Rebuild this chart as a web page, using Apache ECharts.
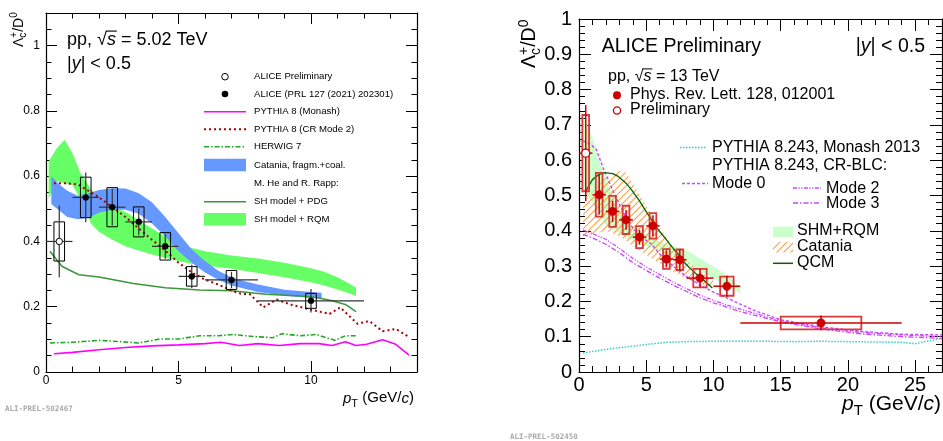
<!DOCTYPE html>
<html><head><meta charset="utf-8">
<script src="https://cdn.jsdelivr.net/npm/echarts/dist/echarts.min.js"></script>
<style>html,body{margin:0;padding:0;background:#fff}#c{width:943px;height:441px}</style>
</head><body><div id="c"></div>
<script>
// ---------------- Left panel: pp 5.02 TeV ----------------
const lPrelimPt=[0.5], lPrelimVal=[0.40], lPrelimLo=[0], lPrelimHi=[1], lPrelimStat=[0.11], lPrelimSys=[0.06];
const lPt=[1.5,2.5,3.5,4.5,5.5,7,10];
const lVal=[0.535,0.505,0.46,0.385,0.293,0.282,0.218];
const lLo=[1,2,3,4,5,6,8];
const lHi=[2,3,4,5,6,8,12];
const lStat=[0.076,0.056,0.041,0.038,0.036,0.025,0.036];
const lSys=[0.062,0.06,0.046,0.042,0.03,0.029,0.023];
const lMonashPt=[0.3,1,2,3,4,5,6,6.6,7.3,8,8.8,9.6,10.3,10.8,11.3,11.7,12.1,12.7,13.2,13.7];
const lMonashVal=[0.056,0.06,0.068,0.075,0.08,0.083,0.087,0.091,0.081,0.087,0.081,0.087,0.087,0.081,0.093,0.081,0.085,0.099,0.085,0.052];
const lCRPt=[0.3,0.8,1.2,1.5,2,2.5,3,3.5,4,4.5,5,5.5,6,6.5,7.05,7.35,7.7,8.2,8.7,9.3,9.9,10.7,11.1,11.75,12.2,12.7,13.2,13.7];
const lCRVal=[0.578,0.578,0.575,0.56,0.535,0.505,0.475,0.44,0.405,0.372,0.335,0.305,0.283,0.268,0.248,0.24,0.238,0.198,0.222,0.205,0.193,0.178,0.198,0.148,0.156,0.125,0.132,0.107];
const lHerwigPt=[0.15,1,2,2.8,3.5,4.3,5,5.8,6.5,7.05,7.8,8.55,8.9,9.6,10.2,10.9,11.3,11.75];
const lHerwigVal=[0.089,0.091,0.097,0.093,0.089,0.101,0.101,0.111,0.111,0.115,0.109,0.105,0.117,0.111,0.115,0.097,0.111,0.111];
const lPdgPt=[0.15,0.6,1.24,2,3.3,4.5,5.8,7,8.3,9.6,10.2,10.8,11.3,11.7];
const lPdgVal=[0.37,0.324,0.298,0.291,0.271,0.258,0.251,0.249,0.238,0.233,0.228,0.218,0.207,0.185];
const lCatPt=[0.2,0.5,0.8,1.2,1.6,2,2.5,3,3.5,4,4.5,5,5.5,6,6.5,7,7.5,8,9,10,10.4];
const lCatHi=[0.60,0.575,0.555,0.54,0.548,0.558,0.563,0.562,0.548,0.52,0.475,0.425,0.375,0.34,0.31,0.29,0.278,0.268,0.252,0.245,0.243];
const lCatLo=[0.515,0.495,0.475,0.468,0.472,0.488,0.497,0.497,0.485,0.455,0.415,0.37,0.335,0.305,0.283,0.265,0.255,0.245,0.234,0.227,0.225];
const lRqmPt=[0.1,0.4,0.7,1.0,1.3,1.7,2,2.5,3,3.5,4,4.5,5,5.5,6,7,8,9,10,10.5,11,11.5,11.7];
const lRqmHi=[0.645,0.685,0.712,0.67,0.61,0.56,0.535,0.51,0.49,0.465,0.44,0.415,0.395,0.38,0.37,0.357,0.348,0.335,0.318,0.307,0.29,0.268,0.258];
const lRqmLo=[0.53,0.585,0.578,0.572,0.53,0.455,0.43,0.405,0.385,0.372,0.36,0.35,0.34,0.332,0.326,0.316,0.303,0.29,0.275,0.265,0.253,0.24,0.232];
const lLegendLabels=['ALICE Preliminary','ALICE (PRL 127 (2021) 202301)','PYTHIA 8 (Monash)','PYTHIA 8 (CR Mode 2)','HERWIG 7','Catania, fragm.+coal.','M. He and R. Rapp:','SH model + PDG','SH model + RQM'];

// ---------------- Right panel: pp 13 TeV ----------------
const rPrelimPt=[0.5], rPrelimVal=[0.62], rPrelimLo=[0], rPrelimHi=[1], rPrelimStat=[0.136], rPrelimSys=[0.108];
const rPt=[1.5,2.5,3.5,4.5,5.5,6.5,7.5,9,11,18];
const rVal=[0.502,0.455,0.431,0.382,0.414,0.32,0.318,0.266,0.243,0.139];
const rLo=[1,2,3,4,5,6,7,8,10,12];
const rHi=[2,3,4,5,6,7,8,10,12,24];
const rStat=[0.056,0.03,0.028,0.021,0.03,0.024,0.03,0.026,0.03,0.021];
const rSys=[0.062,0.044,0.04,0.031,0.036,0.028,0.029,0.026,0.027,0.018];
const rMonashPt=[0.3,1,2,3,4,5,6.5,8,10,12,14,16,18,20,22,24,25,26,27];
const rMonashVal=[0.054,0.058,0.064,0.069,0.073,0.078,0.084,0.086,0.087,0.087,0.087,0.086,0.087,0.086,0.085,0.084,0.08,0.088,0.095];
const rMode0Pt=[0.3,0.9,1.3,1.8,2.65,3.64,4.4,5.4,6.1,7,8,9,10,11,12,13,15,18,21,24,27];
const rMode0Val=[0.655,0.644,0.63,0.578,0.502,0.427,0.389,0.362,0.33,0.3,0.27,0.247,0.226,0.21,0.192,0.175,0.148,0.128,0.115,0.107,0.105];
const rModePt=[0.3,1,2,3,4,5,6,7,8,9,10,11,12,15,18,21,24,27];
const rMode2Val=[0.402,0.392,0.376,0.35,0.322,0.298,0.276,0.255,0.236,0.218,0.203,0.19,0.178,0.145,0.125,0.112,0.105,0.1];
const rMode3Val=[0.39,0.38,0.362,0.338,0.31,0.288,0.266,0.246,0.228,0.21,0.196,0.184,0.171,0.142,0.122,0.108,0.1,0.095];
const rQcmPt=[0.5,1,1.5,1.93,2.5,2.92,3.5,3.91,4.5,4.9,5.5,5.89,6.5,6.88,7.5,7.87,8.5,9.1,9.92];
const rQcmVal=[0.512,0.545,0.56,0.565,0.562,0.554,0.535,0.516,0.485,0.46,0.425,0.403,0.375,0.356,0.328,0.309,0.285,0.266,0.238];
const rShmPt=[0.3,0.6,1,1.5,2,2.5,3,3.5,4,5,6,7,8,9,10,11,12];
const rShmHi=[0.72,0.70,0.665,0.6,0.55,0.5,0.46,0.43,0.41,0.39,0.37,0.358,0.345,0.322,0.298,0.275,0.24];
const rShmLo=[0.52,0.5,0.48,0.45,0.415,0.405,0.394,0.382,0.372,0.357,0.342,0.327,0.31,0.285,0.265,0.245,0.222];
const rCatPt=[0.3,1,2,3,3.5,4,5,6,7,8,9,10];
const rCatHi=[0.48,0.51,0.55,0.57,0.565,0.535,0.47,0.41,0.355,0.315,0.285,0.258];
const rCatLo=[0.38,0.39,0.4,0.385,0.372,0.358,0.332,0.308,0.285,0.265,0.25,0.24];

// ---------------- helpers ----------------
const FONT="'Liberation Sans', Arial, Helvetica, sans-serif";
const mctx=document.createElement('canvas').getContext('2d');
function tw(t,font){mctx.font=font;return mctx.measureText(t).width;}
function run(x,base,parts,size,fill){
  const out=[];let cx=x;let stackW=null;
  parts.forEach(p=>{
    const s=p.s||size;const font=(p.i?'italic ':'')+s+'px '+FONT;
    const w=tw(p.t,font);const by=base+(p.dy||0);
    out.push({type:'text',x:cx,y:by-0.31*s,silent:true,style:{text:p.t,font:font,fill:fill||'#000',textAlign:'left',textVerticalAlign:'middle'}});
    if(p.over){out.push({type:'line',silent:true,shape:{x1:cx-s*0.05,y1:base-0.80*s,x2:cx+w+s*0.05,y2:base-0.80*s},style:{stroke:fill||'#000',lineWidth:Math.max(1,s/16)}});}
    if(p.stack){stackW=w;}
    else{cx+= (stackW!==null?Math.max(stackW,w):w);stackW=null;}
  });
  return out;
}
const hatch=document.createElement('canvas');hatch.width=7;hatch.height=7;
(function(){const h=hatch.getContext('2d');h.strokeStyle='#ffa040';h.lineWidth=1.1;h.beginPath();
h.moveTo(0,7);h.lineTo(7,0);h.moveTo(-1,1);h.lineTo(1,-1);h.moveTo(6,8);h.lineTo(8,6);h.stroke();})();
const hatchFill={image:hatch,repeat:'repeat'};

function band(xi,yi,pt,lo,hi,fill,z){
  return {type:'custom',xAxisIndex:xi,yAxisIndex:yi,z:z,silent:true,clip:true,
    data:pt.map((x,i)=>[x,lo[i],hi[i]]),
    renderItem:function(params,api){
      if(params.dataIndex!==0)return null;
      const pts=[];
      for(let i=0;i<pt.length;i++)pts.push(api.coord([pt[i],hi[i]]));
      for(let i=pt.length-1;i>=0;i--)pts.push(api.coord([pt[i],lo[i]]));
      return {type:'polygon',shape:{points:pts},style:{fill:fill,stroke:null}};
    }};
}
function line(xi,yi,pt,val,color,width,dash,z){
  return {type:'line',xAxisIndex:xi,yAxisIndex:yi,z:z||3,silent:true,symbol:'none',showSymbol:false,
    data:pt.map((x,i)=>[x,val[i]]),lineStyle:{color:color,width:width,type:dash||'solid'}};
}
function points(xi,yi,pt,val,lo,hi,stat,sys,halfW,o){
  return {type:'custom',xAxisIndex:xi,yAxisIndex:yi,z:o.z||10,silent:true,clip:false,
    data:pt.map((x,i)=>[x,val[i],lo[i],hi[i],stat[i],sys[i],halfW(i)]),
    renderItem:function(params,api){
      const x=api.value(0),y=api.value(1),l=api.value(2),h=api.value(3),st=api.value(4),sy=api.value(5),bw=api.value(6);
      const c=api.coord([x,y]),a=api.coord([l,y]),b=api.coord([h,y]);
      const u=api.coord([x,y+st]),d=api.coord([x,y-st]);
      const r1=api.coord([x-bw,y+sy]),r2=api.coord([x+bw,y-sy]);
      return {type:'group',children:[
        {type:'rect',shape:{x:r1[0],y:r1[1],width:r2[0]-r1[0],height:r2[1]-r1[1]},style:{fill:'none',stroke:o.box,lineWidth:o.boxW}},
        {type:'line',shape:{x1:a[0],y1:a[1],x2:b[0],y2:b[1]},style:{stroke:o.bar,lineWidth:o.barW}},
        {type:'line',shape:{x1:u[0],y1:u[1],x2:d[0],y2:d[1]},style:{stroke:o.bar,lineWidth:o.barW}},
        {type:'circle',shape:{cx:c[0],cy:c[1],r:o.r},style:{fill:o.fill,stroke:o.mk,lineWidth:o.mw}}
      ]};
    }};
}
function frameAxes(g,xMax,xMaj,xMin,yMax,yMaj,yMin,fs,majLen,minLen,xm,ym,hideYMax){
  const tick=(len)=>({show:true,inside:true,length:len,lineStyle:{color:'#000',width:1}});
  const lineOn={show:true,onZero:false,lineStyle:{color:'#000',width:1.2}};
  const lineOff={show:false,onZero:false};
  const mk=(pos,max,iv,len,axLine,label)=>({type:'value',gridIndex:g,position:pos,min:0,max:max,interval:iv,
    splitLine:{show:false},axisLine:axLine,axisTick:tick(len),
    axisLabel:label||{show:false}});
  const xl={show:true,color:'#000',fontSize:fs,fontFamily:FONT,margin:xm,showMaxLabel:false};
  const yl={show:true,color:'#000',fontSize:fs,fontFamily:FONT,margin:ym,showMaxLabel:!hideYMax};
  return {
    x:[mk('bottom',xMax,xMaj,majLen,lineOn,xl),mk('bottom',xMax,xMin,minLen,lineOff),mk('top',xMax,xMaj,majLen,lineOn),mk('top',xMax,xMin,minLen,lineOff)],
    y:[mk('left',yMax,yMaj,majLen,lineOn,yl),mk('left',yMax,yMin,minLen,lineOff),mk('right',yMax,yMaj,majLen,lineOn),mk('right',yMax,yMin,minLen,lineOff)]
  };
}

const LA=frameAxes(0,14,5,1,1.1,0.2,0.05,12,11,5.5,3,6,true);
const RA=frameAxes(1,27,5,1,1.0,0.1,0.02,20,12,6,3,7,false);

// ---------------- series ----------------
const series=[
  band(0,0,lRqmPt,lRqmLo,lRqmHi,'#66ff66',1),
  band(0,0,lCatPt,lCatLo,lCatHi,'#6699ff',2),
  line(0,0,lPdgPt,lPdgVal,'#3c963c',1.5,'solid',3),
  line(0,0,lMonashPt,lMonashVal,'#ff00ff',1.6,'solid',3),
  line(0,0,lHerwigPt,lHerwigVal,'#22aa22',1.6,[5,2,1.5,2],3),
  line(0,0,lCRPt,lCRVal,'#a80000',2,[2,3],4),
  points(0,0,lPrelimPt,lPrelimVal,lPrelimLo,lPrelimHi,lPrelimStat,lPrelimSys,()=>0.2,{box:'#000',boxW:1,bar:'#333',barW:1.2,r:3.2,fill:'#fff',mk:'#000',mw:1}),
  points(0,0,lPt,lVal,lLo,lHi,lStat,lSys,()=>0.2,{box:'#000',boxW:1,bar:'#333',barW:1.2,r:3,fill:'#000',mk:'#000',mw:0.5}),

  band(4,4,rShmPt,rShmLo,rShmHi,'#ccffcc',1),
  band(4,4,rCatPt,rCatLo,rCatHi,hatchFill,2),
  line(4,4,rMonashPt,rMonashVal,'#33cccc',1.5,[1.5,1.5],3),
  line(4,4,rModePt,rMode3Val,'#cc44ff',1.3,[5,2,1.5,2],3),
  line(4,4,rModePt,rMode2Val,'#cc44ff',1.3,[4,1.5,1.2,1.5,1.2,1.5],3),
  line(4,4,rMode0Pt,rMode0Val,'#cc44ff',1.4,[3,2],3),
  line(4,4,rQcmPt,rQcmVal,'#006600',1.3,'solid',4),
  points(4,4,rPrelimPt,rPrelimVal,rPrelimLo,rPrelimHi,rPrelimStat,rPrelimSys,(i)=>(rPrelimHi[i]-rPrelimLo[i])/4,{box:'#d93a3a',boxW:1.8,bar:'#cc0000',barW:1.5,r:4,fill:'#fff',mk:'#cc0000',mw:1.3}),
  points(4,4,rPt,rVal,rLo,rHi,rStat,rSys,(i)=>(rHi[i]-rLo[i])/4,{box:'#d93a3a',boxW:1.8,bar:'#cc0000',barW:1.5,r:4.2,fill:'#cc0000',mk:'#cc0000',mw:0.5})
];

// ---------------- annotations & legends ----------------
const G=[];
function add(arr){arr.forEach(e=>G.push(e));}
add(run(67,45.5,[{t:'pp, '},{t:'\u221A'},{t:'s',i:true,over:true},{t:' = 5.02 TeV'}],18));
add(run(67,70,[{t:'|'},{t:'y',i:true},{t:'| < 0.5'}],18));
const lRows=[76.7,94,111.7,129.3,146.7,165,183.3,201.7,219.3];
lLegendLabels.forEach((t,i)=>{G.push({type:'text',x:254,y:lRows[i],silent:true,style:{text:t,font:'9.6px '+FONT,fill:'#000',textAlign:'left',textVerticalAlign:'middle'}});});
G.push({type:'circle',silent:true,shape:{cx:225,cy:lRows[0],r:3.3},style:{fill:'#fff',stroke:'#000',lineWidth:1}});
G.push({type:'circle',silent:true,shape:{cx:225,cy:lRows[1],r:3.3},style:{fill:'#000'}});
G.push({type:'line',silent:true,shape:{x1:204,y1:lRows[2],x2:246,y2:lRows[2]},style:{stroke:'#ff00ff',lineWidth:1.6}});
G.push({type:'line',silent:true,shape:{x1:204,y1:lRows[3],x2:246,y2:lRows[3]},style:{stroke:'#a80000',lineWidth:2,lineDash:[2,3]}});
G.push({type:'line',silent:true,shape:{x1:204,y1:lRows[4],x2:246,y2:lRows[4]},style:{stroke:'#22aa22',lineWidth:1.6,lineDash:[5,2,1.5,2]}});
G.push({type:'rect',silent:true,shape:{x:204,y:lRows[5]-6.3,width:42,height:12.6},style:{fill:'#6699ff'}});
G.push({type:'line',silent:true,shape:{x1:204,y1:lRows[7],x2:246,y2:lRows[7]},style:{stroke:'#3c963c',lineWidth:1.6}});
G.push({type:'rect',silent:true,shape:{x:204,y:lRows[8]-6.3,width:42,height:12.6},style:{fill:'#66ff66'}});
add(run(343,403,[{t:'p',i:true},{t:'T',s:11,dy:4},{t:' (GeV/'},{t:'c',i:true},{t:')'}],15));
G.push({type:'group',x:23,y:47,rotation:Math.PI/2,children:run(0,0,[{t:'\u039B'},{t:'+',s:10,dy:-6,stack:true},{t:'c',s:10,dy:3},{t:'/D'},{t:'0',s:10,dy:-6}],14)});
G.push({type:'text',x:5,y:409,silent:true,style:{text:'ALI-PREL-502467',font:'bold 7.5px "DejaVu Sans Mono", monospace',fill:'#a8a8a8',textAlign:'left',textVerticalAlign:'middle'}});

add(run(601.7,52.3,[{t:'ALICE Preliminary'}],19.5));
(function(){const parts=[{t:'|'},{t:'y',i:true},{t:'| < 0.5'}];let w=0;parts.forEach(p=>{w+=tw(p.t,(p.i?'italic ':'')+'19.5px '+FONT);});add(run(925-w,52.3,parts,19.5));})();
add(run(608,81.7,[{t:'pp, '},{t:'\u221A'},{t:'s',i:true,over:true},{t:' = 13 TeV'}],16));
add(run(630,99.3,[{t:'Phys. Rev. Lett. 128, 012001'}],16));
add(run(630,114.3,[{t:'Preliminary'}],16));
G.push({type:'circle',silent:true,shape:{cx:617,cy:95.2,r:4},style:{fill:'#cc0000'}});
G.push({type:'circle',silent:true,shape:{cx:617,cy:110.5,r:3.6},style:{fill:'#fff',stroke:'#cc0000',lineWidth:1.3}});
add(run(712,152.7,[{t:'PYTHIA 8.243, Monash 2013'}],16));
G.push({type:'line',silent:true,shape:{x1:680,y1:147.5,x2:707,y2:147.5},style:{stroke:'#33cccc',lineWidth:1.5,lineDash:[1.5,1.5]}});
add(run(712,171,[{t:'PYTHIA 8.243, CR-BLC:'}],16));
add(run(712,188.7,[{t:'Mode 0'}],16));
G.push({type:'line',silent:true,shape:{x1:682,y1:183.5,x2:708,y2:183.5},style:{stroke:'#cc44ff',lineWidth:1.4,lineDash:[3,2]}});
add(run(826,194,[{t:'Mode 2'}],16));
G.push({type:'line',silent:true,shape:{x1:793,y1:188,x2:821,y2:188},style:{stroke:'#cc44ff',lineWidth:1.3,lineDash:[4,1.5,1.2,1.5,1.2,1.5]}});
add(run(826,208.7,[{t:'Mode 3'}],16));
G.push({type:'line',silent:true,shape:{x1:793,y1:203,x2:821,y2:203},style:{stroke:'#cc44ff',lineWidth:1.3,lineDash:[5,2,1.5,2]}});
add(run(797,236,[{t:'SHM+RQM'}],16));
G.push({type:'rect',silent:true,shape:{x:773,y:226.5,width:20,height:10.5},style:{fill:'#ccffcc'}});
add(run(797,251.7,[{t:'Catania'}],16));
G.push({type:'rect',silent:true,shape:{x:773,y:242,width:20,height:10.5},style:{fill:hatchFill}});
add(run(797,267.5,[{t:'QCM'}],16));
G.push({type:'line',silent:true,shape:{x1:773,y1:263.3,x2:793,y2:263.3},style:{stroke:'#006600',lineWidth:1.5}});
(function(){const parts=[{t:'p',i:true},{t:'T',s:15,dy:5},{t:' (GeV/'},{t:'c',i:true},{t:')'}];let w=0;parts.forEach(p=>{w+=tw(p.t,(p.i?'italic ':'')+(p.s||21)+'px '+FONT);});add(run(941-w,411,parts,21));})();
G.push({type:'group',x:536,y:68,rotation:Math.PI/2,children:run(0,0,[{t:'\u039B'},{t:'+',s:14,dy:-8,stack:true},{t:'c',s:14,dy:4},{t:'/D'},{t:'0',s:14,dy:-8}],19.5)});
G.push({type:'text',x:510,y:437,silent:true,style:{text:'ALI-PREL-502450',font:'bold 7.5px "DejaVu Sans Mono", monospace',fill:'#a8a8a8',textAlign:'left',textVerticalAlign:'middle'}});

const chart=echarts.init(document.getElementById('c'),null,{renderer:'canvas'});
chart.setOption({
  animation:false,backgroundColor:'#fff',
  grid:[{left:46,top:13,width:371,height:359,containLabel:false},{left:579,top:19,width:363,height:353,containLabel:false}],
  xAxis:LA.x.concat(RA.x),
  yAxis:LA.y.concat(RA.y),
  series:series,
  graphic:{elements:G}
});
</script></body></html>
